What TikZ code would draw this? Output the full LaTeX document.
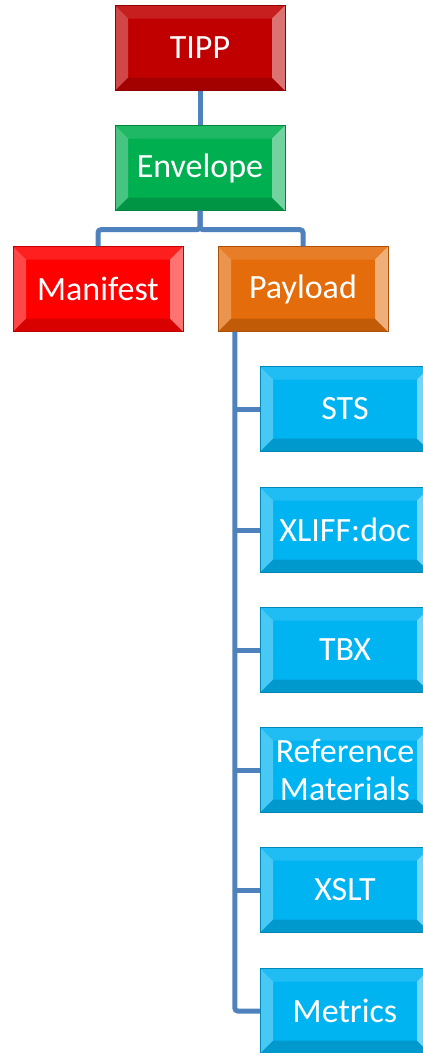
\documentclass[tikz,border=0pt]{standalone}
\usepackage{fontspec}
\setmainfont{Carlito}
\usepackage{tikz}
\definecolor{tippred}{HTML}{C00000}
\definecolor{envgreen}{HTML}{00B050}
\definecolor{manred}{HTML}{FF0000}
\definecolor{payorange}{HTML}{E46C0A}
\definecolor{partblue}{HTML}{00B4F2}
\definecolor{linkblue}{HTML}{4F81BD}
\def\pb{path picture bounding box}
\def\bv{13pt}
\tikzset{
  box/.style={fill=#1, draw=#1!75!black, text=white, minimum width=170pt, minimum height=85pt,
    inner sep=0pt, align=center, font=\fontsize{34}{38}\selectfont,
    path picture={
      \fill[white,opacity=.12] (\pb.north west) -- ([shift={(\bv,-\bv)}]\pb.north west) -- ([shift={(-\bv,-\bv)}]\pb.north east) -- (\pb.north east) -- cycle;
      \fill[black,opacity=.15] (\pb.south west) -- ([shift={(\bv,\bv)}]\pb.south west) -- ([shift={(-\bv,\bv)}]\pb.south east) -- (\pb.south east) -- cycle;
      \fill[white,opacity=.28] (\pb.north west) -- ([shift={(\bv,-\bv)}]\pb.north west) -- ([shift={(\bv,\bv)}]\pb.south west) -- (\pb.south west) -- cycle;
      \fill[white,opacity=.45] (\pb.north east) -- ([shift={(-\bv,-\bv)}]\pb.north east) -- ([shift={(-\bv,\bv)}]\pb.south east) -- (\pb.south east) -- cycle;
    }},
  link/.style={draw=linkblue, line width=5pt, rounded corners=3pt}
}

\begin{document}
\begin{tikzpicture}[x=1pt,y=-1pt]
    \useasboundingbox (0,0) rectangle (423,1053);
    \node[box=tippred]   (tipp) at (200,48)  {TIPP};
    \node[box=envgreen]  (env)  at (200,168) {Envelope};
    \node[box=manred]    (man)  at (98,289)  {Manifest};
    \node[box=payorange] (pay)  at (303,289) {Payload};
    \node[box=partblue]  (sts)  at (345,409) {STS};
    \node[box=partblue]  (xlf)  at (345,530) {XLIFF:doc};
    \node[box=partblue]  (tbx)  at (345,650) {TBX};
    \node[box=partblue]  (ref)  at (345,770) {Reference\\Materials};
    \node[box=partblue]  (xsl)  at (345,890) {XSLT};
    \node[box=partblue]  (met)  at (345,1011) {Metrics};
    % tree lines
    \draw[link] (tipp) -- (env);
    \draw[link] (env.south) -- ++(0,19) -| (man.north);
    \draw[link] (env.south) -- ++(0,19) -| (pay.north);
    \coordinate (spine) at ([xshift=17pt]pay.south west);
    \draw[link] (spine) |- (met.west);
    \foreach \part in {sts,xlf,tbx,ref,xsl}
        \draw[link] (spine |- \part.west) -- (\part.west);
\end{tikzpicture}
\end{document}
